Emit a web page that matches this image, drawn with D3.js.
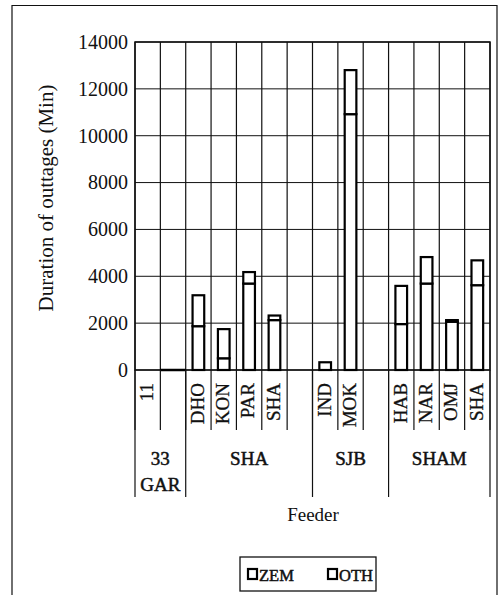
<!DOCTYPE html>
<html>
<head>
<meta charset="utf-8">
<script src="https://cdn.jsdelivr.net/npm/d3@7"></script>
<style>
  body { margin: 0; background: #fff; }
  svg { display: block; font-family: "Liberation Serif", "Times New Roman", serif; }
</style>
</head>
<body>
<svg id="chart" width="500" height="595"></svg>
<script>
// data
const feeders = ["11", "", "DHO", "KON", "PAR", "SHA", "", "IND", "MOK", "", "HAB", "NAR", "OMJ", "SHA"];
const zem = [0, 0, 1870, 500, 3690, 2130, 0, 330, 10920, 0, 1960, 3690, 2060, 3620];
const oth = [0, 0, 1320, 1245, 490, 195, 0, 0, 1880, 0, 1630, 1130, 70, 1060];
const groupLabels = [["33", "GAR"], ["SHA"], ["SJB"], ["SHAM"]];
const groupSizes = [2, 5, 3, 4];
const yTicks = [0, 2000, 4000, 6000, 8000, 10000, 12000, 14000];
const seriesNames = ["ZEM", "OTH"];

const svg = d3.select("#chart");
const plot = { left: 135, right: 490, top: 42, bottom: 370 };

// outer chart border (open at the bottom, like the scan)
svg.append("path")
  .attr("d", "M12,600 V5.5 H497 V600")
  .attr("fill", "none")
  .attr("stroke", "#111")
  .attr("stroke-width", 1.2);

// scales
const xScale = d3.scaleBand()
  .domain(d3.range(feeders.length))
  .range([plot.left, plot.right])
  .paddingInner(0)
  .paddingOuter(0);

const yScale = d3.scaleLinear()
  .domain([0, 14000])
  .range([plot.bottom, plot.top]);

// horizontal gridlines
svg.append("g")
  .selectAll("line")
  .data(yTicks)
  .join("line")
    .attr("x1", plot.left)
    .attr("x2", plot.right)
    .attr("y1", d => yScale(d))
    .attr("y2", d => yScale(d))
    .attr("stroke", "#111")
    .attr("stroke-width", 1);

// vertical gridlines at every slot boundary
const boundaries = d3.range(feeders.length + 1).map(i => plot.left + i * xScale.step());
svg.append("g")
  .selectAll("line")
  .data(boundaries)
  .join("line")
    .attr("x1", d => d)
    .attr("x2", d => d)
    .attr("y1", plot.top)
    .attr("y2", plot.bottom)
    .attr("stroke", "#111")
    .attr("stroke-width", 1.2);

// plot frame
svg.append("rect")
  .attr("x", plot.left)
  .attr("y", plot.top)
  .attr("width", plot.right - plot.left)
  .attr("height", plot.bottom - plot.top)
  .attr("fill", "none")
  .attr("stroke", "#111")
  .attr("stroke-width", 1.5);

// stacked bars (ZEM bottom, OTH top), white with black outline
const rows = feeders.map((f, i) => ({ i, ZEM: zem[i], OTH: oth[i] }));
const stacked = d3.stack().keys(seriesNames)(rows);
const barW = xScale.bandwidth() * 0.46;

svg.append("g")
  .selectAll("g")
  .data(stacked)
  .join("g")
  .selectAll("rect")
  .data(d => d.filter(s => s[1] - s[0] > 0))
  .join("rect")
    .attr("x", d => xScale(d.data.i) + (xScale.bandwidth() - barW) / 2)
    .attr("y", d => yScale(d[1]))
    .attr("width", barW)
    .attr("height", d => yScale(d[0]) - yScale(d[1]))
    .attr("fill", "#fff")
    .attr("stroke", "#000")
    .attr("stroke-width", 2.2);

// thick baseline under the "33 GAR" slots (zero-height bars)
svg.append("line")
  .attr("x1", xScale(0) + 25)
  .attr("x2", xScale(2))
  .attr("y1", yScale(0))
  .attr("y2", yScale(0))
  .attr("stroke", "#000")
  .attr("stroke-width", 2.5);

// y axis labels
const yAxis = d3.axisLeft(yScale).tickValues(yTicks).tickSize(0).tickPadding(7).tickFormat(d3.format("d"));
svg.append("g")
  .attr("transform", `translate(${plot.left},0)`)
  .call(yAxis)
  .call(g => g.select(".domain").remove())
  .selectAll("text")
    .attr("font-size", 20)
    .attr("font-family", "Liberation Serif")
    .attr("fill", "#111");

// y title
svg.append("text")
  .attr("transform", `translate(48, 198) rotate(-90)`)
  .attr("text-anchor", "middle")
  .attr("dominant-baseline", "middle")
  .attr("font-size", 21)
  .attr("fill", "#111")
  .text("Duration of outtages (Min)");

// category label dividers
svg.append("g")
  .selectAll("line")
  .data(boundaries)
  .join("line")
    .attr("x1", d => d)
    .attr("x2", d => d)
    .attr("y1", plot.bottom)
    .attr("y2", 430)
    .attr("stroke", "#111")
    .attr("stroke-width", 1.2);

// rotated feeder labels
svg.append("g")
  .selectAll("text")
  .data(feeders)
  .join("text")
    .attr("transform", (d, i) => `translate(${xScale(i) + xScale.bandwidth() / 2 + 1}, 383) rotate(-90)`)
    .attr("text-anchor", "end")
    .attr("dominant-baseline", "middle")
    .attr("font-size", 19)
    .attr("fill", "#111")
    .attr("stroke", "#111")
    .attr("stroke-width", 0.3)
    .text(d => d);

// group level: dividers and labels
const groupEdges = [0].concat(Array.from(d3.cumsum(groupSizes)));
svg.append("g")
  .selectAll("line")
  .data(groupEdges)
  .join("line")
    .attr("x1", d => plot.left + d * xScale.step())
    .attr("x2", d => plot.left + d * xScale.step())
    .attr("y1", plot.bottom)
    .attr("y2", 497)
    .attr("stroke", "#111")
    .attr("stroke-width", 1.2);

// one text per line of each group label
const groupLines = groupLabels.flatMap((lines, gi) => lines.map((t, li) => ({
  text: t,
  line: li,
  cx: plot.left + (groupEdges[gi] + groupEdges[gi + 1]) / 2 * xScale.step()
})));

svg.append("g")
  .selectAll("text")
  .data(groupLines)
  .join("text")
    .attr("x", d => d.cx)
    .attr("y", d => 465 + d.line * 26)
    .attr("text-anchor", "middle")
    .attr("font-size", 19)
    .attr("fill", "#111")
    .attr("stroke", "#111")
    .attr("stroke-width", 0.5)
    .text(d => d.text);

// x title
svg.append("text")
  .attr("x", 313)
  .attr("y", 521)
  .attr("text-anchor", "middle")
  .attr("font-size", 19)
  .attr("fill", "#111")
  .text("Feeder");

// legend
const legend = svg.append("g").attr("transform", "translate(240,557)");
legend.append("rect")
  .attr("width", 136)
  .attr("height", 34)
  .attr("fill", "#fff")
  .attr("stroke", "#111")
  .attr("stroke-width", 1.3);

const legendX = [8, 88];
const items = legend.selectAll("g.item")
  .data(seriesNames)
  .join("g")
    .attr("class", "item")
    .attr("transform", (d, i) => `translate(${legendX[i]},0)`);

items.append("rect")
  .attr("x", 0)
  .attr("y", 12)
  .attr("width", 9)
  .attr("height", 10)
  .attr("fill", "#fff")
  .attr("stroke", "#000")
  .attr("stroke-width", 2.2);

items.append("text")
  .attr("x", 11)
  .attr("y", 23.5)
  .attr("font-size", 16.5)
  .attr("fill", "#111")
  .attr("stroke", "#111")
  .attr("stroke-width", 0.5)
  .text(d => d);
</script>
</body>
</html>
